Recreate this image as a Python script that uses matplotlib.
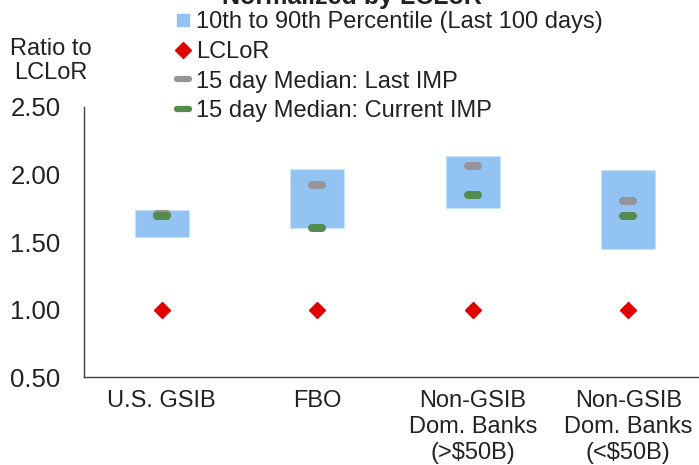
import matplotlib.pyplot as plt
from matplotlib.lines import Line2D
from matplotlib.markers import MarkerStyle

plt.rcParams['font.family'] = ['Liberation Sans', 'DejaVu Sans']

categories = ["U.S. GSIB", "FBO", "Non-GSIB\nDom. Banks\n(>$50B)", "Non-GSIB\nDom. Banks\n(<$50B)"]
p10 = [1.54, 1.60, 1.75, 1.45]
p90 = [1.74, 2.04, 2.135, 2.035]
lclor = [1.00, 1.00, 1.00, 1.00]
median_last = [1.71, 1.925, 2.065, 1.80]
median_curr = [1.69, 1.60, 1.85, 1.69]

blue = "#92C3F2"
red = "#E00000"
gray = "#939598"
green = "#548B4D"
txt = "#222222"

fig = plt.figure(figsize=(6.99, 4.65), dpi=100)
ax = fig.add_axes([84 / 699, 88 / 465, 622 / 699, 270 / 465])

x = list(range(len(categories)))
heights = [hi - lo for lo, hi in zip(p10, p90)]
ax.bar(x, heights, bottom=p10, width=0.35, color=blue, edgecolor="#C8E2FA", linewidth=0.8, zorder=1)

dash = MarkerStyle("_", capstyle="round")
ax.plot(x, median_last, linestyle="none", marker=dash, markersize=7.5, markeredgewidth=5.8,
        color=gray, zorder=3)
ax.plot(x, median_curr, linestyle="none", marker=dash, markersize=7.5, markeredgewidth=5.8,
        color=green, zorder=4)
ax.plot(x, lclor, linestyle="none", marker="D", markersize=8, color=red, zorder=5)

ax.set_xlim(-0.5, 3.5)
ax.set_ylim(0.5, 2.5)
ax.set_yticks([0.5, 1.0, 1.5, 2.0, 2.5])
ax.set_yticklabels([f"{v:.2f}" for v in [0.5, 1.0, 1.5, 2.0, 2.5]])
ax.set_xticks(x)
ax.set_xticklabels(categories, linespacing=1.25)
ax.tick_params(axis="y", length=0, pad=17, labelsize=18.5, colors=txt)
ax.tick_params(axis="x", length=0, pad=9, labelsize=17, colors=txt)
for side in ["top", "right"]:
    ax.spines[side].set_visible(False)
for side in ["left", "bottom"]:
    ax.spines[side].set_color("#404040")
    ax.spines[side].set_linewidth(1.0)

fig.text(51 / 699, 1 - 61 / 465, "Ratio to\nLCLoR", ha="center", va="center",
         fontsize=17, color=txt, linespacing=1.15)
fig.text(352 / 699, 1 - 4 / 465, "Normalized by LCLoR", ha="center", va="baseline",
         fontsize=18, fontweight="bold", color=txt)

handles = [
    Line2D([], [], linestyle="none", marker="s", markersize=9, color=blue),
    Line2D([], [], linestyle="none", marker="D", markersize=8, color=red),
    Line2D([], [], linestyle="none", marker=dash, markersize=8, markeredgewidth=4.5, color=gray),
    Line2D([], [], linestyle="none", marker=dash, markersize=8, markeredgewidth=4.5, color=green),
]
labels = ["10th to 90th Percentile (Last 100 days)", "LCLoR",
          "15 day Median: Last IMP", "15 day Median: Current IMP"]
fig.legend(handles, labels, loc="upper left", bbox_to_anchor=(174 / 699, 1 - 11 / 465),
           frameon=False, fontsize=17, labelspacing=0.33, handlelength=0.8,
           handletextpad=0.15, borderpad=0, borderaxespad=0, labelcolor=txt)

fig.savefig("out.png", dpi=100)
